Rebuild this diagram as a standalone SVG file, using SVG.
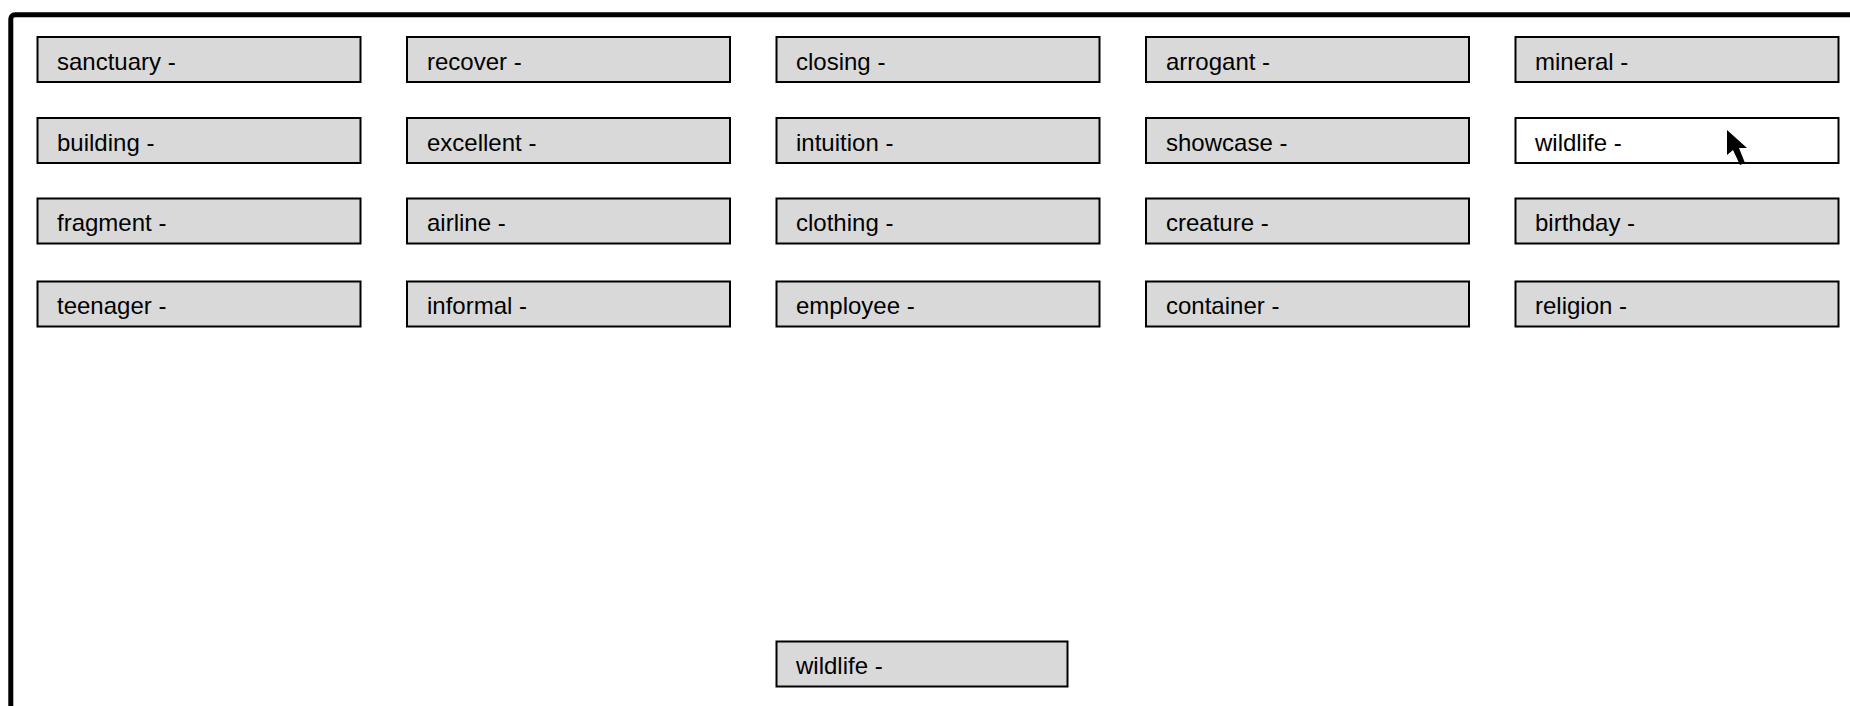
<svg xmlns="http://www.w3.org/2000/svg" width="1850" height="706" viewBox="0 0 1850 706">
<style>
.n rect{fill:#d9d9d9;stroke:#000;stroke-width:2}
.n.w rect{fill:#fff}
.n text{font-family:"Liberation Sans",Arial,sans-serif;font-size:24px;fill:#000}
</style>
<rect x="0" y="0" width="1850" height="706" fill="#fff"/>
<rect id="frame" x="10.8" y="14.8" width="1900" height="800" rx="4" fill="none" stroke="#000" stroke-width="5"/>
<g id="n1" class="n"><rect x="37.5" y="37" width="323" height="45"/><text x="57" y="69.5">sanctuary -</text></g>
<g id="n2" class="n"><rect x="407" y="37" width="323" height="45"/><text x="427" y="69.5">recover -</text></g>
<g id="n3" class="n"><rect x="776.5" y="37" width="323" height="45"/><text x="796" y="69.5">closing -</text></g>
<g id="n4" class="n"><rect x="1146" y="37" width="323" height="45"/><text x="1166" y="69.5">arrogant -</text></g>
<g id="n5" class="n"><rect x="1515.5" y="37" width="323" height="45"/><text x="1535" y="69.5">mineral -</text></g>
<g id="n6" class="n"><rect x="37.5" y="118" width="323" height="45"/><text x="57" y="150.5">building -</text></g>
<g id="n7" class="n"><rect x="407" y="118" width="323" height="45"/><text x="427" y="150.5">excellent -</text></g>
<g id="n8" class="n"><rect x="776.5" y="118" width="323" height="45"/><text x="796" y="150.5">intuition -</text></g>
<g id="n9" class="n"><rect x="1146" y="118" width="323" height="45"/><text x="1166" y="150.5">showcase -</text></g>
<g id="n10" class="n w"><rect x="1515.5" y="118" width="323" height="45"/><text x="1535" y="150.5">wildlife -</text></g>
<g id="n11" class="n"><rect x="37.5" y="198.5" width="323" height="45"/><text x="57" y="231">fragment -</text></g>
<g id="n12" class="n"><rect x="407" y="198.5" width="323" height="45"/><text x="427" y="231">airline -</text></g>
<g id="n13" class="n"><rect x="776.5" y="198.5" width="323" height="45"/><text x="796" y="231">clothing -</text></g>
<g id="n14" class="n"><rect x="1146" y="198.5" width="323" height="45"/><text x="1166" y="231">creature -</text></g>
<g id="n15" class="n"><rect x="1515.5" y="198.5" width="323" height="45"/><text x="1535" y="231">birthday -</text></g>
<g id="n16" class="n"><rect x="37.5" y="281.5" width="323" height="45"/><text x="57" y="314">teenager -</text></g>
<g id="n17" class="n"><rect x="407" y="281.5" width="323" height="45"/><text x="427" y="314">informal -</text></g>
<g id="n18" class="n"><rect x="776.5" y="281.5" width="323" height="45"/><text x="796" y="314">employee -</text></g>
<g id="n19" class="n"><rect x="1146" y="281.5" width="323" height="45"/><text x="1166" y="314">container -</text></g>
<g id="n20" class="n"><rect x="1515.5" y="281.5" width="323" height="45"/><text x="1535" y="314">religion -</text></g>
<g id="n21" class="n"><rect x="776.5" y="641.5" width="291" height="45"/><text x="796" y="674">wildlife -</text></g>
<g id="connectors"></g>
<polygon id="cursor" points="1727,130 1727,155 1733,150 1740,165 1745,163 1739,148 1747,148" fill="#000"/>
</svg>
